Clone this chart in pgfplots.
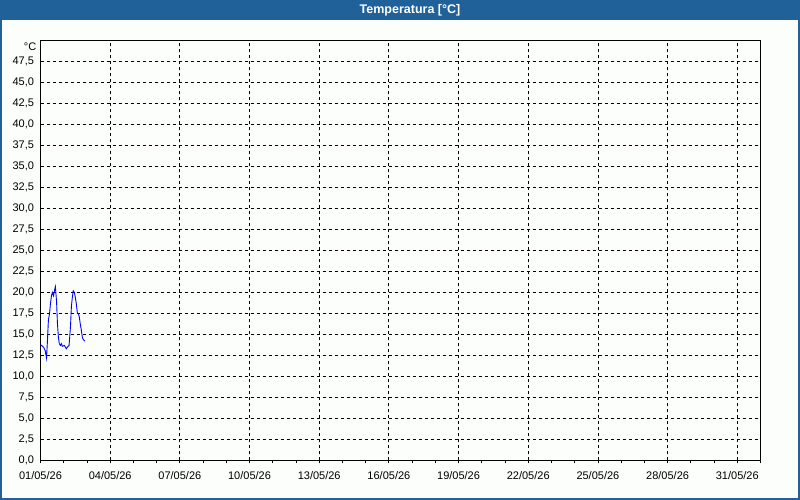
\documentclass[border=0pt]{standalone}
\usepackage{fontspec}
\setmainfont{Liberation Sans}
\usepackage{pgfplots}
\pgfplotsset{compat=1.18}

\definecolor{barblue}{RGB}{31,97,152}
\definecolor{bgwhite}{RGB}{252,254,252}
\definecolor{trace}{RGB}{0,0,255}

\begin{document}
\begin{tikzpicture}
  % window frame and title bar
  \useasboundingbox (0,0) rectangle (800pt,500pt);
  \fill[bgwhite] (0,0) rectangle (800pt,500pt);
  \fill[barblue] (0,480pt) rectangle (800pt,500pt);
  \draw[barblue, line width=2pt] (1pt,1pt) rectangle (799pt,499pt);
  \node[text=white, font=\fontsize{12.5}{14}\selectfont\bfseries] at (410pt,490pt) {Temperatura [°C]};

  \begin{axis}[
      name=temp,
      anchor=south west,
      at={(40.5pt,39.5pt)},
      scale only axis,
      width=720pt,
      height=420pt,
      xmin=0, xmax=31,
      ymin=0, ymax=50,
      axis line style={line width=1pt, black},
      xtick={0,3,...,30},
      xticklabels={01/05/26,04/05/26,07/05/26,10/05/26,13/05/26,16/05/26,19/05/26,22/05/26,25/05/26,28/05/26,31/05/26},
      minor xtick={1,2,4,5,7,8,10,11,13,14,16,17,19,20,22,23,25,26,28,29,31},
      ytick={0,2.5,...,47.5},
      xtick pos=bottom,
      ytick pos=left,
      tick align=outside,
      major tick length=3pt,
      minor tick length=3pt,
      xtick style={black, line width=0.8pt},
      ytick style={draw=none},
      xmajorgrids, ymajorgrids,
      major grid style={black, line width=0.8pt, dash pattern=on 3pt off 3pt},
      tick label style={font=\fontsize{11}{13}\selectfont},
      xticklabel style={yshift=-4pt},
      /pgf/number format/.cd, use comma, fixed, fixed zerofill, precision=1, assume math mode=true,
    ]
    \addplot[trace, line width=0.9pt] coordinates {
      (0.00,13.8) (0.04,13.7) (0.13,13.5) (0.20,13.1) (0.26,12.2)
      (0.30,14.3) (0.34,16.7) (0.39,17.5) (0.43,18.7) (0.47,19.6)
      (0.51,20.0) (0.56,19.6) (0.60,20.2) (0.64,20.7) (0.69,19.0)
      (0.73,16.3) (0.77,14.7) (0.81,13.9) (0.86,13.7) (0.90,13.9)
      (0.94,13.6) (1.03,13.7) (1.11,13.3) (1.16,13.5) (1.23,13.7)
      (1.29,15.9) (1.33,18.3) (1.37,19.4) (1.41,20.2) (1.46,20.0)
      (1.50,19.4) (1.54,18.7) (1.59,17.5) (1.63,17.5) (1.67,17.1)
      (1.71,16.3) (1.76,15.5) (1.80,14.7) (1.84,14.4) (1.91,14.2)
    };
  \end{axis}
  \node[anchor=north east, inner sep=0pt, xshift=-4pt, yshift=-2pt, font=\fontsize{11}{13}\selectfont]
    at (temp.north west) {°C};
\end{tikzpicture}
\end{document}
